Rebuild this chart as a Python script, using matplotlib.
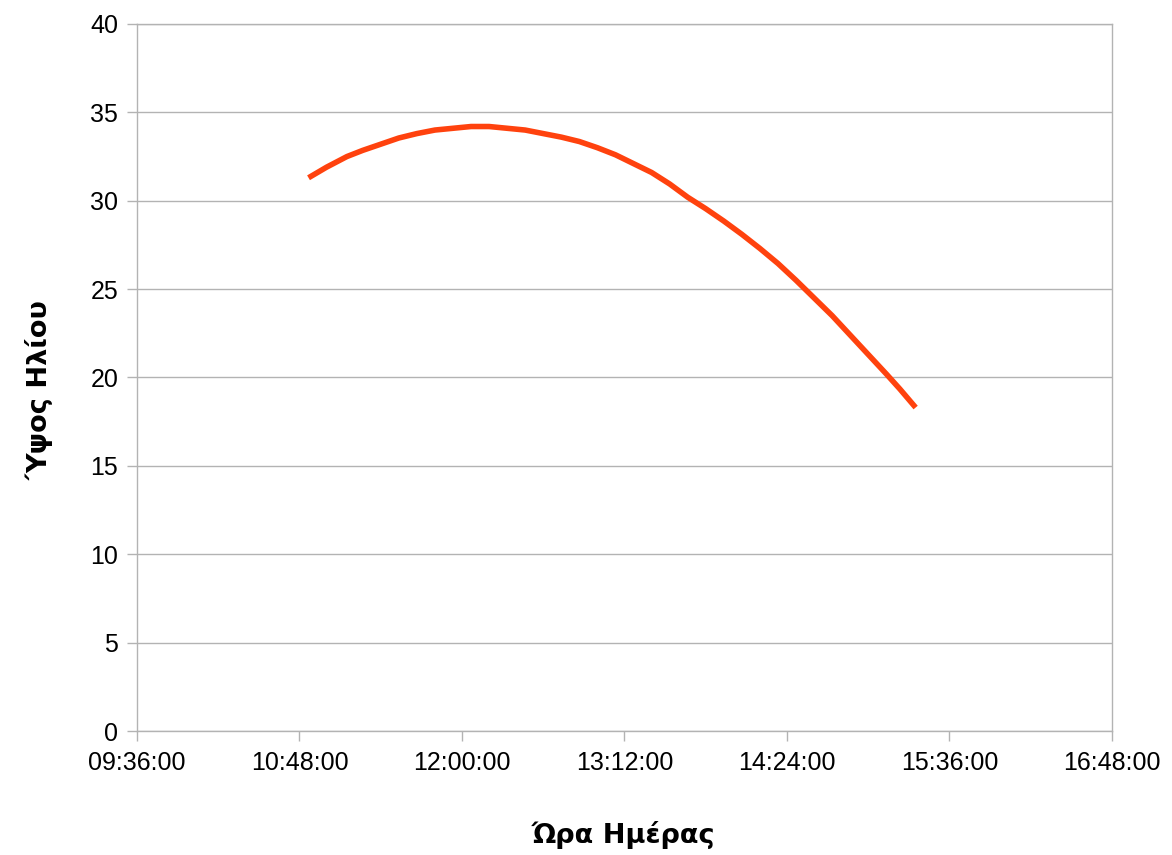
import matplotlib
matplotlib.use("Agg")
import matplotlib.pyplot as plt
from matplotlib.ticker import FuncFormatter, FixedLocator

# Data
times = ["10:52", "11:00", "11:09", "11:16", "11:24", "11:32", "11:40", "11:48",
         "11:56", "12:04", "12:12", "12:20", "12:28", "12:36", "12:44", "12:52",
         "13:00", "13:08", "13:16", "13:24", "13:32", "13:40", "13:48", "13:56",
         "14:04", "14:12", "14:20", "14:28", "14:36", "14:44", "14:52", "15:00",
         "15:08", "15:14", "15:21"]
altitude = [31.3, 31.9, 32.5, 32.85, 33.2, 33.55, 33.8, 34.0,
            34.1, 34.2, 34.2, 34.1, 34.0, 33.8, 33.6, 33.35,
            33.0, 32.6, 32.1, 31.6, 30.95, 30.2, 29.55, 28.85,
            28.1, 27.3, 26.45, 25.5, 24.5, 23.5, 22.4, 21.3,
            20.2, 19.35, 18.3]
x_ticks = ["09:36", "10:48", "12:00", "13:12", "14:24", "15:36", "16:48"]
y_ticks = [0, 5, 10, 15, 20, 25, 30, 35, 40]
x_label = "Ώρα Ημέρας"
y_label = "Ύψος Ηλίου"


def to_min(s):
    h, m = s.split(":")
    return int(h) * 60 + int(m)


xs = [to_min(t) for t in times]
xt = [to_min(t) for t in x_ticks]

fig = plt.figure(figsize=(11.72, 8.55), dpi=100)
ax = fig.add_axes([137 / 1172, 1 - 731 / 855, (1112 - 137) / 1172, (731 - 24) / 855])

grey = "#b3b3b3"
ax.plot(xs, altitude, color="#ff420e", linewidth=4.0, solid_joinstyle="round",
        solid_capstyle="butt", zorder=3)

ax.set_xlim(xt[0], xt[-1])
ax.set_ylim(y_ticks[0], y_ticks[-1])
ax.xaxis.set_major_locator(FixedLocator(xt))
ax.xaxis.set_major_formatter(FuncFormatter(lambda v, p: f"{int(v)//60:02d}:{int(v)%60:02d}:00"))
ax.set_yticks(y_ticks)

ax.yaxis.grid(True, color=grey, linewidth=1.0)
ax.xaxis.grid(False)
ax.set_axisbelow(True)
for s in ax.spines.values():
    s.set_color(grey)
    s.set_linewidth(1.0)

ax.tick_params(axis="both", colors=grey, length=7.5, width=1.0, labelcolor="black")
ax.tick_params(axis="x", pad=7)
ax.tick_params(axis="y", pad=6)
for lab in ax.get_xticklabels() + ax.get_yticklabels():
    lab.set_fontfamily(["Liberation Sans", "DejaVu Sans"])
    lab.set_fontsize(18)

fig.text(624 / 1172, 1 - 835 / 855, x_label, ha="center", va="center",
         fontsize=19.5, fontweight="bold", family=["DejaVu Sans"])
fig.text(40 / 1172, 1 - 390 / 855, y_label, ha="center", va="center", rotation=90,
         fontsize=19.5, fontweight="bold", family=["DejaVu Sans"])

fig.savefig("out.png", dpi=100)
